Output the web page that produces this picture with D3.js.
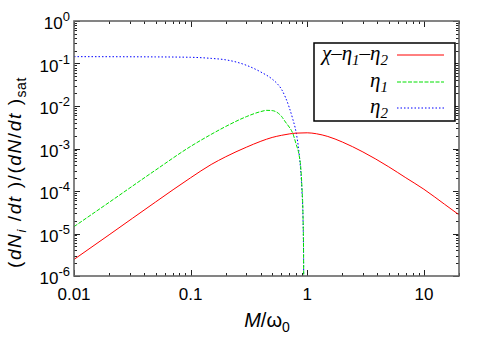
<!DOCTYPE html>
<html><head><meta charset="utf-8">
<script src="https://cdn.jsdelivr.net/npm/d3@7"></script>
<style>body{margin:0;background:#fff}svg{display:block}</style>
</head><body>
<svg id="c" width="500" height="350"></svg>
<script>
// ---- data ----
const redX   = [0.01,0.02,0.05,0.1,0.15,0.2,0.3,0.4,0.5,0.6,0.7,0.8,1.0,1.2,1.5,2,3,5,7,10,15,20];
const redY   = [2.45e-6,9.3e-6,5.5e-5,2.05e-4,4.2e-4,6.4e-4,1.07e-3,1.48e-3,1.82e-3,2.04e-3,2.2e-3,2.3e-3,2.34e-3,2.22e-3,1.92e-3,1.42e-3,8.3e-4,3.7e-4,2.05e-4,1.1e-4,4.9e-5,2.75e-5];
const greenX = [0.01,0.02,0.05,0.1,0.15,0.2,0.3,0.4,0.45,0.5,0.55,0.6,0.65,0.7,0.75,0.8,0.85,0.88,0.9,0.92,0.93,0.935];
const greenY = [1.45e-5,5.4e-5,3.1e-4,1.12e-3,2.15e-3,3.3e-3,5.6e-3,7.4e-3,7.9e-3,7.8e-3,7.1e-3,5.75e-3,4.2e-3,3.2e-3,2.3e-3,1.3e-3,7.1e-4,3.5e-4,1.26e-4,2.5e-5,3.2e-6,1e-7];
const blueX  = [0.01,0.05,0.1,0.15,0.2,0.25,0.3,0.4,0.5,0.55,0.6,0.65,0.7,0.75,0.8,0.85,0.88,0.9,0.92,0.93,0.935];
const blueY  = [0.145,0.143,0.14,0.132,0.122,0.107,0.091,0.063,0.043,0.034,0.025,0.016,9.3e-3,5.0e-3,2.5e-3,8e-4,2.8e-4,1e-4,2e-5,2.5e-6,1e-7];
const xTicks = [0.01,0.1,1,10];
const xTickLabels = ["0.01","0.1","1","10"];
const yExps = [0,-1,-2,-3,-4,-5,-6];

const series = [
  {name:"chi", x:redX, y:redY, color:"#ff0000", dash:null},
  {name:"eta1", x:greenX, y:greenY, color:"#00e000", dash:"4,1.5"},
  {name:"eta2", x:blueX, y:blueY, color:"#0000ff", dash:"1.5,2"}
];

// ---- layout ----
const L=74, R=459, T=21, B=276;
const svg = d3.select("#c");
const x = d3.scaleLog().domain([0.01,20]).range([L,R]);
const y = d3.scaleLog().domain([1e-6,1]).range([B,T]);

svg.append("clipPath").attr("id","clip").append("rect")
  .attr("x",L).attr("y",T).attr("width",R-L).attr("height",B-T);

// minor/major ticks (mirrored)
const g = svg.append("g");
const xMinor=[], yMinor=[];
for (let e=-2;e<=1;e++) for (let m=2;m<=9;m++){const v=m*Math.pow(10,e); if(v<=20) xMinor.push(v);}
for (let e=-6;e<0;e++) for (let m=2;m<=9;m++) yMinor.push(m*Math.pow(10,e));
function tk(x1,y1,x2,y2){g.append("line").attr("x1",x1).attr("y1",y1).attr("x2",x2).attr("y2",y2).attr("stroke","#222").attr("stroke-width",1);}
xTicks.forEach(v=>{const px=Math.round(x(v))+0.5; tk(px,B,px,B-6); tk(px,T,px,T+6);});
xMinor.forEach(v=>{const px=Math.round(x(v))+0.5; tk(px,B,px,B-3); tk(px,T,px,T+3);});
yExps.forEach(e=>{const py=Math.round(y(Math.pow(10,e)))+0.5; tk(L,py,L+6,py); tk(R,py,R-6,py);});
yMinor.forEach(v=>{const py=Math.round(y(v))+0.5; tk(L,py,L+3,py); tk(R,py,R-3,py);});

// curves
const line = d3.line().x((d)=>x(d[0])).y((d)=>y(d[1])).curve(d3.curveMonotoneX);
const cg = svg.append("g").attr("clip-path","url(#clip)");
series.slice().reverse().forEach(s=>{
  cg.append("path").attr("d",line(s.x.map((v,i)=>[v,s.y[i]])))
    .attr("fill","none").attr("stroke",s.color).attr("stroke-width",1)
    .attr("stroke-dasharray",s.dash);
});

// frame
svg.append("rect").attr("x",L).attr("y",T).attr("width",R-L).attr("height",B-T)
  .attr("fill","none").attr("stroke","#666").attr("stroke-width",1.6);

// tick labels
const font="'Liberation Sans', Arial, sans-serif";
xTicks.forEach((v,i)=>{
  svg.append("text").attr("x",x(v)).attr("y",300).attr("text-anchor","middle")
    .attr("font-family",font).attr("font-size",17).attr("fill","#000").text(xTickLabels[i]);
});
yExps.forEach(e=>{
  const t=svg.append("text").attr("x",70).attr("y",y(Math.pow(10,e))+8).attr("text-anchor","end")
    .attr("font-family",font).attr("font-size",17).attr("fill","#000");
  t.append("tspan").text("10");
  t.append("tspan").attr("dy",-8).attr("font-size",13).text(e===0?"0":"-"+(-e));
});

// axis titles
const xl=svg.append("text").attr("x",267).attr("y",327).attr("text-anchor","middle")
  .attr("font-family",font).attr("font-size",20).attr("fill","#000");
xl.append("tspan").attr("font-style","italic").text("M");
xl.append("tspan").text("/ω");
xl.append("tspan").attr("dy",5).attr("font-size",14).text("0");

const yl=svg.append("text").attr("transform","translate(21,268) rotate(-90)")
  .attr("font-family",font).attr("font-size",19).attr("fill","#000").attr("letter-spacing",1.6);
yl.append("tspan").text("(");
yl.append("tspan").attr("font-style","italic").text("dN");
yl.append("tspan").attr("font-style","italic").attr("font-size",13).attr("dy",5).text("i");
yl.append("tspan").attr("dy",-5).text(" /");
yl.append("tspan").attr("font-style","italic").text("dt");
yl.append("tspan").text(" )/(");
yl.append("tspan").attr("font-style","italic").text("dN");
yl.append("tspan").text("/");
yl.append("tspan").attr("font-style","italic").text("dt");
yl.append("tspan").text(" )");
yl.append("tspan").attr("font-size",14).attr("dy",5).attr("letter-spacing",0.5).text("sat");

// legend
svg.append("rect").attr("x",314).attr("y",43).attr("width",141).attr("height",78)
  .attr("fill","#fff").attr("stroke","#000").attr("stroke-width",1.5);
const serif="'Liberation Serif','Times New Roman',serif";
const rows=[55,82,108];
const labels=[[["χ–η",""],["1","s"],["–η",""],["2","s"]],[["η",""],["1","s"]],[["η",""],["2","s"]]];
series.forEach((s,i)=>{
  const t=svg.append("text").attr("x",388).attr("y",rows[i]+5).attr("text-anchor","end")
    .attr("font-family",serif).attr("font-size",21).attr("font-style","italic").attr("fill","#000");
  let sub=false;
  labels[i].forEach(p=>{
    const ts=t.append("tspan").text(p[0]);
    if(p[1]==="s"){ts.attr("font-size",15).attr("dy",sub?0:5); sub=true;}
    else { if(sub){ts.attr("dy",-5);} sub=false; }
  });
  svg.append("line").attr("x1",397).attr("x2",444).attr("y1",rows[i]).attr("y2",rows[i])
    .attr("stroke",s.color).attr("stroke-width",1).attr("stroke-dasharray",s.dash);
});
</script>
</body></html>
